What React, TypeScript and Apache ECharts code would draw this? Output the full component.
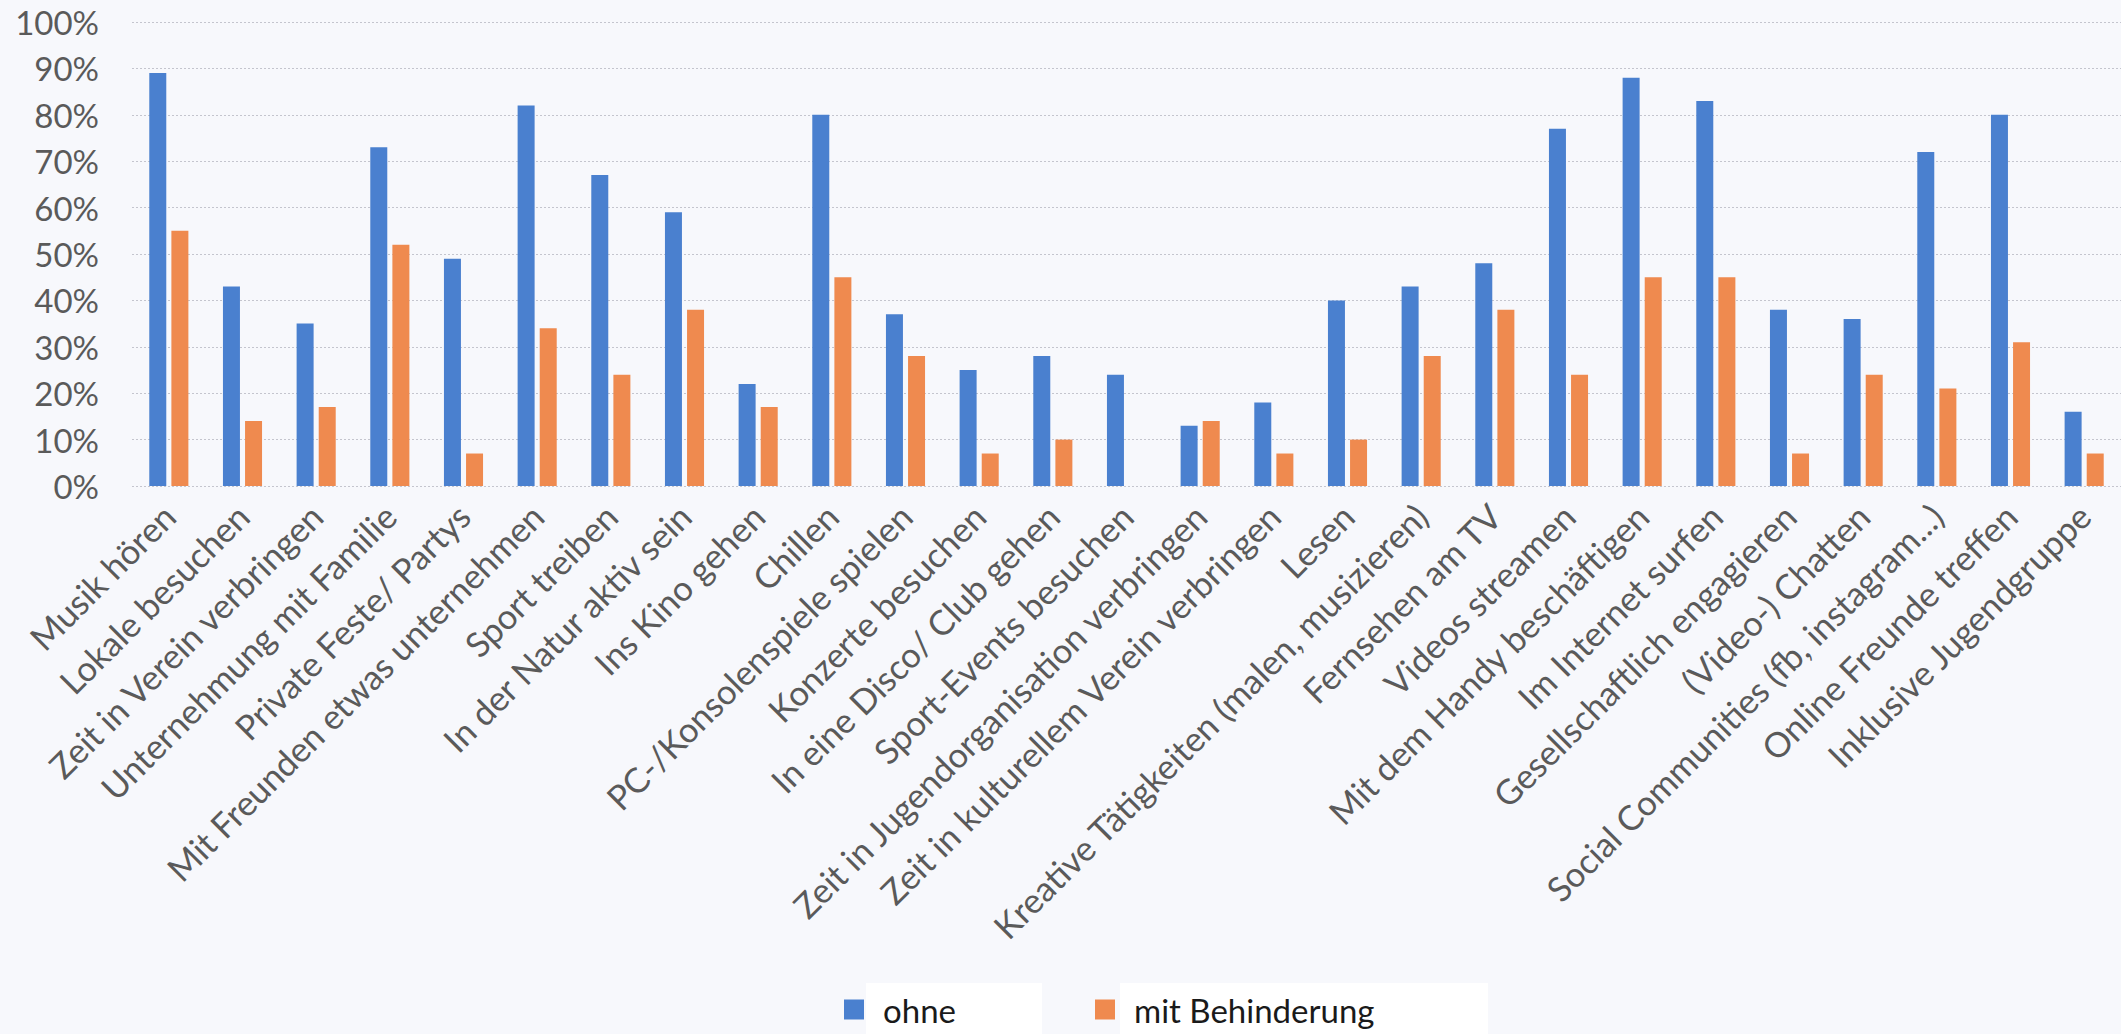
import React, { useEffect, useRef } from "react";
import * as echarts from "echarts";

const categories = [
  "Musik hören",
  "Lokale besuchen",
  "Zeit in Verein verbringen",
  "Unternehmung mit Familie",
  "Private Feste/ Partys",
  "Mit Freunden etwas unternehmen",
  "Sport treiben",
  "In der Natur aktiv sein",
  "Ins Kino gehen",
  "Chillen",
  "PC-/Konsolenspiele spielen",
  "Konzerte besuchen",
  "In eine Disco/ Club gehen",
  "Sport-Events besuchen",
  "Zeit in Jugendorganisation verbringen",
  "Zeit in kulturellem Verein verbringen",
  "Lesen",
  "Kreative Tätigkeiten (malen, musizieren)",
  "Fernsehen am TV",
  "Videos streamen",
  "Mit dem Handy beschäftigen",
  "Im Internet surfen",
  "Gesellschaftlich engagieren",
  "(Video-) Chatten",
  "Social Communities (fb, instagram...)",
  "Online Freunde treffen",
  "Inklusive Jugendgruppe",
];

const ohne = [89, 43, 35, 73, 49, 82, 67, 59, 22, 80, 37, 25, 28, 24, 13, 18, 40, 43, 48, 77, 88, 83, 38, 36, 72, 80, 16];
const mitBehinderung = [55, 14, 17, 52, 7, 34, 24, 38, 17, 45, 28, 7, 10, null, 14, 7, 10, 28, 38, 24, 45, 45, 7, 24, 21, 31, 7];

const seriesNames = ["ohne", "mit Behinderung"];
const seriesColors = ["#4a80cf", "#ef8a4f"];

const FONT = "Lato, 'Open Sans', sans-serif";

export default function App() {
  const ref = useRef<HTMLDivElement>(null);

  useEffect(() => {
    document.body.style.margin = "0";
    document.body.style.background = "#f7f8fc";
    if (!ref.current) return;
    const chart = echarts.init(ref.current, undefined, { renderer: "svg" });
    chart.setOption({
      animation: false,
      backgroundColor: "#f7f8fc",
      textStyle: { fontFamily: FONT },
      grid: { left: 132, right: -6, top: 22, bottom: 548, containLabel: false },
      graphic: [
        { type: "rect", z: 0, shape: { x: 866, y: 983, width: 176, height: 60 }, style: { fill: "#ffffff" } },
        { type: "rect", z: 0, shape: { x: 1120, y: 983, width: 368, height: 60 }, style: { fill: "#ffffff" } },
      ],
      legend: [
        {
          data: [seriesNames[0]],
          left: 839,
          top: 988,
          itemWidth: 20,
          itemHeight: 20,
          icon: "rect",
          textStyle: { fontFamily: FONT, fontSize: 33, color: "#1a1a1a", padding: [0, 0, 0, 14] },
          z: 10,
        },
        {
          data: [seriesNames[1]],
          left: 1090,
          top: 988,
          itemWidth: 20,
          itemHeight: 20,
          icon: "rect",
          textStyle: { fontFamily: FONT, fontSize: 33, color: "#1a1a1a", padding: [0, 0, 0, 14] },
          z: 10,
        },
      ],
      xAxis: {
        type: "category",
        data: categories,
        axisLine: { show: false },
        axisTick: { show: false },
        axisLabel: {
          interval: 0,
          rotate: 45,
          margin: 24,
          fontSize: 34.5,
          color: "#5a5a5a",
          fontFamily: FONT,
        },
      },
      yAxis: {
        type: "value",
        min: 0,
        max: 100,
        interval: 10,
        axisLine: { show: false },
        axisTick: { show: false },
        axisLabel: {
          formatter: "{value}%",
          fontSize: 33,
          color: "#5a5a5a",
          margin: 33,
          fontFamily: FONT,
        },
        splitLine: { lineStyle: { color: "#c4c5ce", type: [2, 2], width: 1 } },
      },
      series: [
        {
          name: seriesNames[0],
          type: "bar",
          data: ohne,
          barWidth: 17,
          barGap: "30%",
          itemStyle: { color: seriesColors[0] },
        },
        {
          name: seriesNames[1],
          type: "bar",
          data: mitBehinderung,
          barWidth: 17,
          barGap: "30%",
          itemStyle: { color: seriesColors[1] },
        },
      ],
    });
    return () => chart.dispose();
  }, []);

  return (
    <div style={{ width: 2121, height: 1034, overflow: "hidden" }}>
      <div ref={ref} style={{ width: 2121, height: 1034 }} />
    </div>
  );
}
